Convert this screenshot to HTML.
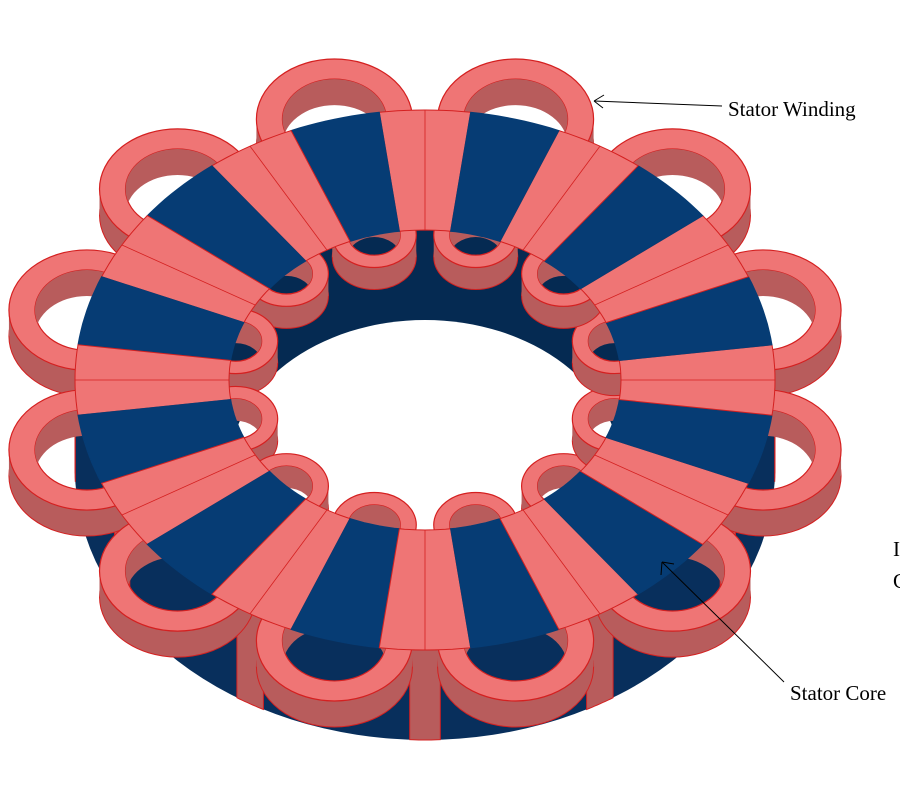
<!DOCTYPE html>
<html><head><meta charset="utf-8"><style>
body{margin:0;background:#fff;width:900px;height:800px;overflow:hidden}
svg{position:absolute;left:0;top:0}
.t{font-family:"Liberation Serif",serif;font-size:21px;fill:#000}
</style></head><body>
<svg id="s" width="900" height="800" viewBox="0 0 900 800" xmlns="http://www.w3.org/2000/svg"></svg>
<script>
var s=document.getElementById('s');
var CX=425,CY=380,RX=350,RY=270,IRX=196,IRY=150,D=90,K=RY/RX;
var P='#ef7575',PS='#b85c5c',ST='#d42020',B='#063c74',BS='#082f5c',BD='#052a52';
var out='';
function pt(rx,ry,a,dy){a=a*Math.PI/180;return [CX+rx*Math.cos(a),CY-ry*Math.sin(a)+(dy||0)];}
function f(p){return p[0].toFixed(1)+','+p[1].toFixed(1);}
function ell(cx,cy,rx,ry){return 'M'+(cx-rx)+','+cy+'a'+rx+','+ry+' 0 1,0 '+(2*rx)+',0a'+rx+','+ry+' 0 1,0 '+(-2*rx)+',0Z';}
out+='<path d="M'+(CX-RX)+','+CY+'L'+(CX-RX)+','+(CY+D)+'A'+RX+','+RY+' 0 0,0 '+(CX+RX)+','+(CY+D)+'L'+(CX+RX)+','+CY+'Z" fill="'+BS+'"/>';
for(var k=0;k<12;k++){var ac=90+30*k,a0=ac-2.5,a1=ac+2.5;
 var pts=[];for(var a=a0;a<=a1+0.01;a+=0.5){var p=pt(RX,RY,a);if(Math.sin(a*Math.PI/180)<=0.001)pts.push(p);}
 if(pts.length<2)continue;var q=pts.map(f).join(' ');var r=pts.slice().reverse().map(function(p){return f([p[0],p[1]+D]);}).join(' ');
 out+='<polygon points="'+q+' '+r+'" fill="'+PS+'" stroke="'+ST+'" stroke-width="1"/>';}
out+='<clipPath id="hc"><path d="'+ell(CX,CY,IRX,IRY)+'"/></clipPath>';
out+='<path d="'+ell(CX,CY,IRX,IRY)+'" fill="'+BD+'"/>';
out+='<path clip-path="url(#hc)" d="'+ell(CX,CY+D,IRX,IRY)+'" fill="#fff"/>';
var n=0;
function loop(cx,cy,r,h,dep){var rk=r*K,hk=h*K;n++;
 var o='<mask id="m'+n+'" maskUnits="userSpaceOnUse" x="0" y="0" width="900" height="800"><rect width="900" height="800" fill="#fff"/><path d="'+ell(cx,cy,h,hk)+'" fill="#000"/></mask>';
 o+='<g mask="url(#m'+n+')">';
 o+='<path d="'+ell(cx,cy+dep,r,rk)+'" fill="'+PS+'" stroke="'+ST+'" stroke-width="1"/>';
 o+='<path d="M'+(cx-r)+','+cy+'L'+(cx-r)+','+(cy+dep)+'L'+(cx+r)+','+(cy+dep)+'L'+(cx+r)+','+cy+'Z" fill="'+PS+'"/>';
 o+='</g>';
 o+='<path fill-rule="evenodd" d="'+ell(cx,cy,r,rk)+ell(cx,cy,h,hk)+'" fill="'+P+'" stroke="'+ST+'" stroke-width="1.2"/>';
 o+='<clipPath id="c'+n+'"><path d="'+ell(cx,cy,h,hk)+'"/></clipPath>';
 o+='<path clip-path="url(#c'+n+')" fill-rule="evenodd" d="'+ell(cx,cy,h+2,hk+2)+ell(cx,cy+dep,h,hk)+'" fill="'+PS+'"/>';
 return o;}
for(var k=0;k<12;k++){var a=105+30*k;var p=pt(IRX,IRY,a);out+=loop(p[0],p[1],42,26,22);}
var ol=[];for(var k=0;k<12;k++){ol.push(105+30*k);}
ol.sort(function(x,y){return Math.sin(y*Math.PI/180)-Math.sin(x*Math.PI/180);});
ol.forEach(function(a){var p=pt(RX,RY,a);out+=loop(p[0],p[1],78,52,26);});
for(var k=0;k<24;k++){var a0=82.5+15*k,a1=a0+15,pink=(k%2==0);
 var pts=[];for(var a=a0;a<=a1+0.01;a+=1.5)pts.push(pt(RX,RY,a));
 for(var a=a1;a>=a0-0.01;a-=1.5)pts.push(pt(IRX,IRY,a));
 out+='<polygon points="'+pts.map(f).join(' ')+'" fill="'+(pink?P:B)+'" stroke="'+(pink?ST:B)+'" stroke-width="1"/>';
 if(pink){var am=a0+7.5;out+='<line x1="'+pt(RX,RY,am)[0]+'" y1="'+pt(RX,RY,am)[1]+'" x2="'+pt(IRX,IRY,am)[0]+'" y2="'+pt(IRX,IRY,am)[1]+'" stroke="'+ST+'" stroke-width="0.8"/>';}}
out+='<line x1="722" y1="106" x2="594" y2="101" stroke="#000" stroke-width="1"/><path d="M594,101 L604,95 M594,101 L603,108" stroke="#000" fill="none"/>';
out+='<text class="t" x="728" y="116">Stator Winding</text>';
out+='<line x1="784" y1="682" x2="662" y2="562" stroke="#000" stroke-width="1"/><path d="M662,562 L661,575 M662,562 L674,564" stroke="#000" fill="none"/>';
out+='<text class="t" x="790" y="700">Stator Core</text>';
out+='<text class="t" x="893" y="556">I</text><text class="t" x="893" y="588">C</text>';
s.innerHTML=out;
</script>
</body></html>
